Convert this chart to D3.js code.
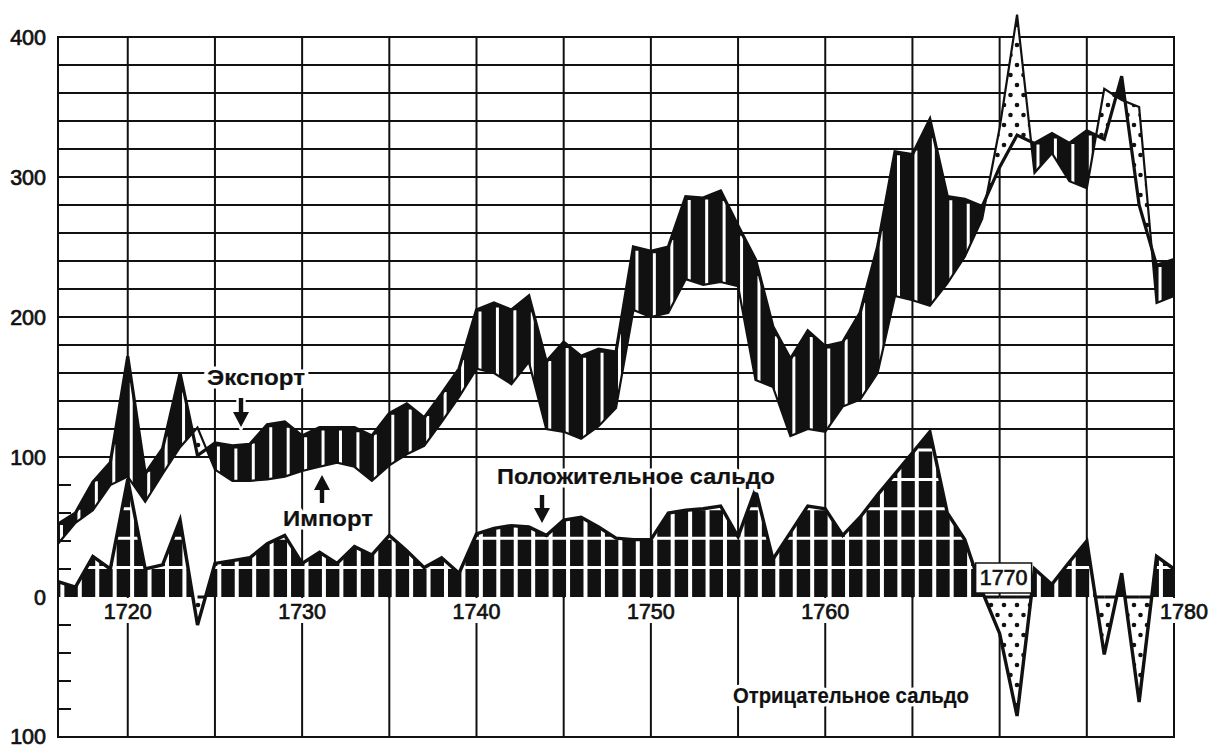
<!DOCTYPE html>
<html>
<head>
<meta charset="utf-8">
<style>
  body { margin: 0; background: #fff; }
  svg { display: block; background: #fff; font-family: "Liberation Sans", Arial, Helvetica, sans-serif; }
  .grid line { stroke: #111; stroke-width: 2; stroke-linecap: square; }
  .num { font-size: 21.5px; fill: #111; stroke: #111; stroke-width: 0.7; }
  .note { font-size: 22px; font-weight: bold; fill: #111; stroke: #111; stroke-width: 0.2; }
  .halo { fill: #fff; stroke: #fff; stroke-width: 7; stroke-linejoin: round; }
</style>
</head>
<body>
<svg width="1211" height="749"></svg>
<script src="https://cdn.jsdelivr.net/npm/d3@7"></script>
<script>
// values, one per year 1716..1780
var years = d3.range(1716, 1781);
var exportVals = [52,60,82,96,172,88,106,160,101,110,
                  108,109,123,125,115,121,121,121,115,131,
                  138,128,145,163,205,210,205,215,168,182,
                  172,177,175,250,247,250,286,285,290,265,
                  241,193,170,190,179,182,203,250,318,316,
                  341,286,284,279,307,330,324,331,324,333,
                  327,372,280,237,241];
var importVals = [38,53,62,80,86,68,88,107,121,91,
                  83,83,84,86,90,93,96,93,83,94,
                  102,108,125,143,163,160,152,168,120,118,
                  113,122,135,205,200,203,227,223,225,222,
                  155,150,115,120,118,136,141,160,215,212,
                  208,224,243,270,335,416,303,317,297,292,
                  363,355,350,210,215];
var balanceVals = [11,7,29,20,84,20,23,55,-20,24,
                   26,28,38,44,24,32,24,36,30,44,
                   33,21,28,17,45,49,51,50,44,55,
                   57,50,42,41,41,60,62,63,65,43,
                   77,27,46,65,63,44,57,73,88,103,
                   118,60,41,4,-26,-85,20,9,25,40,
                   -41,17,-75,29,20];
var axisLabels = [400, 300, 200, 100, 0, -100];
var yearLabels = [1720, 1730, 1740, 1750, 1760, 1770, 1780];
var gridYears = d3.range(1720, 1780, 5);
var gridUpper = d3.range(100, 401, 20);
var stubValues = [20, 40, 60, 80, -20, -40, -60, -80];
var balanceRows = [21, 42, 63, 84, 105];

var svg = d3.select("svg");
var x = d3.scaleLinear().domain([1716, 1780]).range([58, 1174]);
var y = d3.scaleLinear().domain([0, 400]).range([597, 37]);
var x0 = x(1716), x1 = x(1780), yTop = y(400), yZero = y(0), yBot = y(-100);
var labelGapY = 624;

// dots for the negative areas
var defs = svg.append("defs");
var pat = defs.append("pattern").attr("id", "dots").attr("patternUnits", "userSpaceOnUse")
    .attr("width", 13).attr("height", 20);
pat.append("rect").attr("width", 13).attr("height", 20).attr("fill", "#fff");
pat.append("circle").attr("cx", 3).attr("cy", 5).attr("r", 2.3).attr("fill", "#111");
pat.append("circle").attr("cx", 9.5).attr("cy", 15).attr("r", 2.3).attr("fill", "#111");

// ---------- grid ----------
var grid = svg.append("g").attr("class", "grid");
grid.selectAll(".h").data(gridUpper).enter().append("line")
    .attr("x1", x0).attr("x2", x1).attr("y1", d => y(d)).attr("y2", d => y(d));
grid.selectAll(".s").data(stubValues).enter().append("line")
    .attr("x1", x0).attr("x2", x0 + 12).attr("y1", d => y(d)).attr("y2", d => y(d));
grid.append("line").attr("x1", x0).attr("x2", x1).attr("y1", yBot).attr("y2", yBot);
grid.append("line").attr("x1", x0).attr("x2", x0).attr("y1", yTop).attr("y2", yBot);
grid.selectAll(".v").data(gridYears.concat([1780])).enter().append("line")
    .attr("x1", d => x(d)).attr("x2", d => x(d)).attr("y1", yTop).attr("y2", yZero);
grid.selectAll(".vb").data(gridYears.concat([1780])).enter().append("line")
    .attr("x1", d => x(d)).attr("x2", d => x(d))
    .attr("y1", d => (yearLabels.indexOf(d) >= 0 && d !== 1770) ? labelGapY : yZero)
    .attr("y2", yBot);

// insert the points where two series cross
function withCrossings(a, b) {
  var out = [];
  for (var i = 0; i < years.length; i++) {
    out.push({ x: years[i], a: a[i], b: b[i] });
    if (i < years.length - 1) {
      var d0 = a[i] - b[i], d1 = a[i + 1] - b[i + 1];
      if (d0 * d1 < 0) {
        var t = d0 / (d0 - d1);
        out.push({ x: years[i] + t, a: a[i] + t * (a[i + 1] - a[i]), b: b[i] + t * (b[i + 1] - b[i]) });
      }
    }
  }
  return out;
}
function interp(arr, yr) {
  var i = Math.min(Math.floor(yr - 1716), years.length - 2), t = yr - years[i];
  return arr[i] + t * (arr[i + 1] - arr[i]);
}

// ---------- export / import band ----------
var band = withCrossings(exportVals, importVals);
var blackArea = d3.area().x(d => x(d.x)).y0(d => y(d.b)).y1(d => y(Math.max(d.a, d.b)));
var dotArea = d3.area().x(d => x(d.x)).y0(d => y(d.a)).y1(d => y(Math.max(d.a, d.b)));

defs.append("clipPath").attr("id", "bandClip").append("path").attr("d", blackArea(band));
svg.append("path").attr("d", blackArea(band)).attr("fill", "#111");
svg.append("path").attr("d", dotArea(band)).attr("fill", "url(#dots)");

var hatchYears = years.slice(0, -1).map(d => d + 0.2);
svg.append("g").attr("clip-path", "url(#bandClip)")
  .selectAll("line").data(hatchYears).enter().append("line")
    .attr("x1", d => x(d)).attr("x2", d => x(d))
    .attr("y1", d => y(interp(exportVals, d)) + 3)
    .attr("y2", d => y(interp(importVals, d)) + 2)
    .attr("stroke", "#fff").attr("stroke-width", 3);

var lineGen = d3.line().x((d, i) => x(years[i])).y(d => y(d)).curve(d3.curveLinear);
svg.append("path").attr("d", lineGen(importVals)).attr("fill", "none")
    .attr("stroke", "#111").attr("stroke-width", 2.2).attr("stroke-linejoin", "miter");
svg.append("path").attr("d", lineGen(exportVals)).attr("fill", "none")
    .attr("stroke", "#111").attr("stroke-width", 3.2).attr("stroke-linejoin", "miter");

// ---------- balance ----------
var zeros = years.map(() => 0);
var bal = withCrossings(balanceVals, zeros);
var posArea = d3.area().x(d => x(d.x)).y0(yZero).y1(d => y(Math.max(d.a, 0)));
var negArea = d3.area().x(d => x(d.x)).y0(yZero).y1(d => y(Math.min(d.a, 0)));

defs.append("clipPath").attr("id", "balClip").append("path").attr("d", posArea(bal));
svg.append("path").attr("d", posArea(bal)).attr("fill", "#111");
svg.append("path").attr("d", negArea(bal)).attr("fill", "url(#dots)");

var balGrid = svg.append("g").attr("clip-path", "url(#balClip)");
balGrid.selectAll(".bv").data(years.map(d => d + 0.25)).enter().append("line")
    .attr("x1", d => x(d)).attr("x2", d => x(d)).attr("y1", yTop).attr("y2", yZero)
    .attr("stroke", "#fff").attr("stroke-width", 4);
balGrid.selectAll(".bh").data(balanceRows).enter().append("line")
    .attr("x1", x0).attr("x2", x1).attr("y1", d => y(d)).attr("y2", d => y(d))
    .attr("stroke", "#fff").attr("stroke-width", 3);

// zero line under the negative parts
var zeroSegs = [];
for (var i = 0; i < bal.length - 1; i++) {
  if (bal[i].a <= 0 && bal[i + 1].a <= 0 && (bal[i].a < 0 || bal[i + 1].a < 0)) zeroSegs.push([bal[i].x, bal[i + 1].x]);
}
svg.selectAll(".zs").data(zeroSegs).enter().append("line")
    .attr("x1", d => x(d[0])).attr("x2", d => x(d[1])).attr("y1", yZero).attr("y2", yZero)
    .attr("stroke", "#111").attr("stroke-width", 3);
svg.append("path").attr("d", lineGen(balanceVals)).attr("fill", "none")
    .attr("stroke", "#111").attr("stroke-width", 3.4).attr("stroke-linejoin", "miter");

// ---------- text ----------
svg.selectAll(".ax").data(axisLabels).enter().append("text")
    .attr("class", "num").attr("text-anchor", "end")
    .attr("x", 46).attr("y", d => d === -100 ? 744 : y(d) + 7.5)
    .text(d => Math.abs(d));

var yl = svg.selectAll(".yl").data(yearLabels.filter(d => d !== 1770)).enter();
yl.append("text").attr("class", "num halo").attr("text-anchor", "middle")
    .attr("x", d => d === 1780 ? x(d) + 10 : x(d)).attr("y", 619).text(d => d);
yl.append("text").attr("class", "num").attr("text-anchor", "middle")
    .attr("x", d => d === 1780 ? x(d) + 10 : x(d)).attr("y", 619).text(d => d);

// 1770 sits in a little box above the zero line
svg.append("rect").attr("x", x(1770) - 24).attr("y", 563).attr("width", 56).attr("height", 30)
    .attr("fill", "#fff").attr("stroke", "#111").attr("stroke-width", 1.5);
svg.append("text").attr("class", "num").attr("text-anchor", "middle")
    .attr("x", x(1770) + 4).attr("y", 585).text(1770);

function note(txt, xPos, yPos, len) {
  svg.append("text").attr("class", "note halo").attr("x", xPos).attr("y", yPos)
      .attr("textLength", len).attr("lengthAdjust", "spacingAndGlyphs").text(txt);
  svg.append("text").attr("class", "note").attr("x", xPos).attr("y", yPos)
      .attr("textLength", len).attr("lengthAdjust", "spacingAndGlyphs").text(txt);
}
note("Экспорт", 207, 385, 98);
note("Импорт", 283, 526, 90);
note("Положительное сальдо", 497, 484, 278);
note("Отрицательное сальдо", 733, 703, 236);

function arrow(cx, yFrom, yTo) {
  var dir = yTo > yFrom ? 1 : -1, head = 15, hw = 8, sw = 2.2;
  var yh = yTo - dir * head;
  var p = "M" + (cx - sw) + "," + yFrom + "L" + (cx + sw) + "," + yFrom +
          "L" + (cx + sw) + "," + yh + "L" + (cx + hw) + "," + yh +
          "L" + cx + "," + yTo + "L" + (cx - hw) + "," + yh +
          "L" + (cx - sw) + "," + yh + "Z";
  svg.append("path").attr("d", p).attr("fill", "#fff").attr("stroke", "#fff").attr("stroke-width", 5);
  svg.append("path").attr("d", p).attr("fill", "#111");
}
arrow(241, 398, 427);
arrow(322, 503, 475);
arrow(542, 495, 523);
</script>
</body>
</html>
